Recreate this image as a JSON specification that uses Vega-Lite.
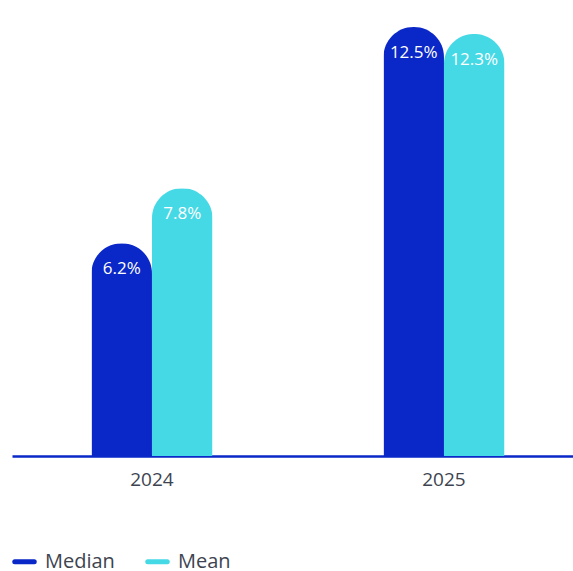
{
  "$schema": "https://vega.github.io/schema/vega-lite/v6.json",
  "autosize": {"type": "none"},
  "padding": {"left": 12, "top": 0, "right": 0, "bottom": 115},
  "width": 561,
  "height": 456,
  "background": "white",
  "config": {
    "view": {"stroke": null},
    "font": "Open Sans",
    "axisX": {"domainColor": "#0a27c7", "domainWidth": 2.5, "ticks": false, "labelPadding": 14, "labelFontSize": 19, "labelColor": "#3d4450", "labelFont": "Open Sans", "labelAngle": 0, "title": null}
  },
  "data": {"values": [
    {"year": "2024", "series": "Median", "value": 0.062},
    {"year": "2024", "series": "Mean", "value": 0.078},
    {"year": "2025", "series": "Median", "value": 0.125},
    {"year": "2025", "series": "Mean", "value": 0.123}
  ]},
  "encoding": {
    "x": {"field": "year", "type": "nominal",
      "scale": {"paddingInner": 0.5856, "paddingOuter": 0.2534, "align": 0.537},
      "axis": {"title": null, "labelAngle": 0, "domainColor": "#0a27c7", "domainWidth": 2.5}},
    "xOffset": {"field": "series", "type": "nominal", "sort": ["Median", "Mean"], "scale": {"paddingInner": 0}},
    "y": {"field": "value", "type": "quantitative", "scale": {"domain": [0, 0.1329], "nice": false}, "axis": null}
  },
  "layer": [
    {
      "mark": {"type": "bar", "cornerRadiusTopLeft": 30, "cornerRadiusTopRight": 30},
      "encoding": {
        "color": {"field": "series", "type": "nominal", "sort": ["Median", "Mean"],
          "scale": {"domain": ["Median", "Mean"], "range": ["#0a27c7", "#45d9e6"]},
          "legend": {"title": null, "orient": "none", "direction": "horizontal", "legendX": 0, "legendY": 549, "symbolType": "stroke", "symbolStrokeWidth": 5, "symbolSize": 380, "labelFontSize": 20, "labelColor": "#3d4450", "labelFont": "Open Sans", "columnPadding": 22, "labelOffset": 8,
            "encode": {"symbols": {"update": {"stroke": {"scale": "color", "field": "value"}, "strokeCap": {"value": "round"}}}}}}
      }
    },
    {
      "mark": {"type": "text", "color": "white", "fontSize": 17, "baseline": "middle", "dy": 26, "font": "Open Sans"},
      "encoding": {"text": {"field": "value", "type": "quantitative", "format": ".1%"}}
    }
  ]
}
